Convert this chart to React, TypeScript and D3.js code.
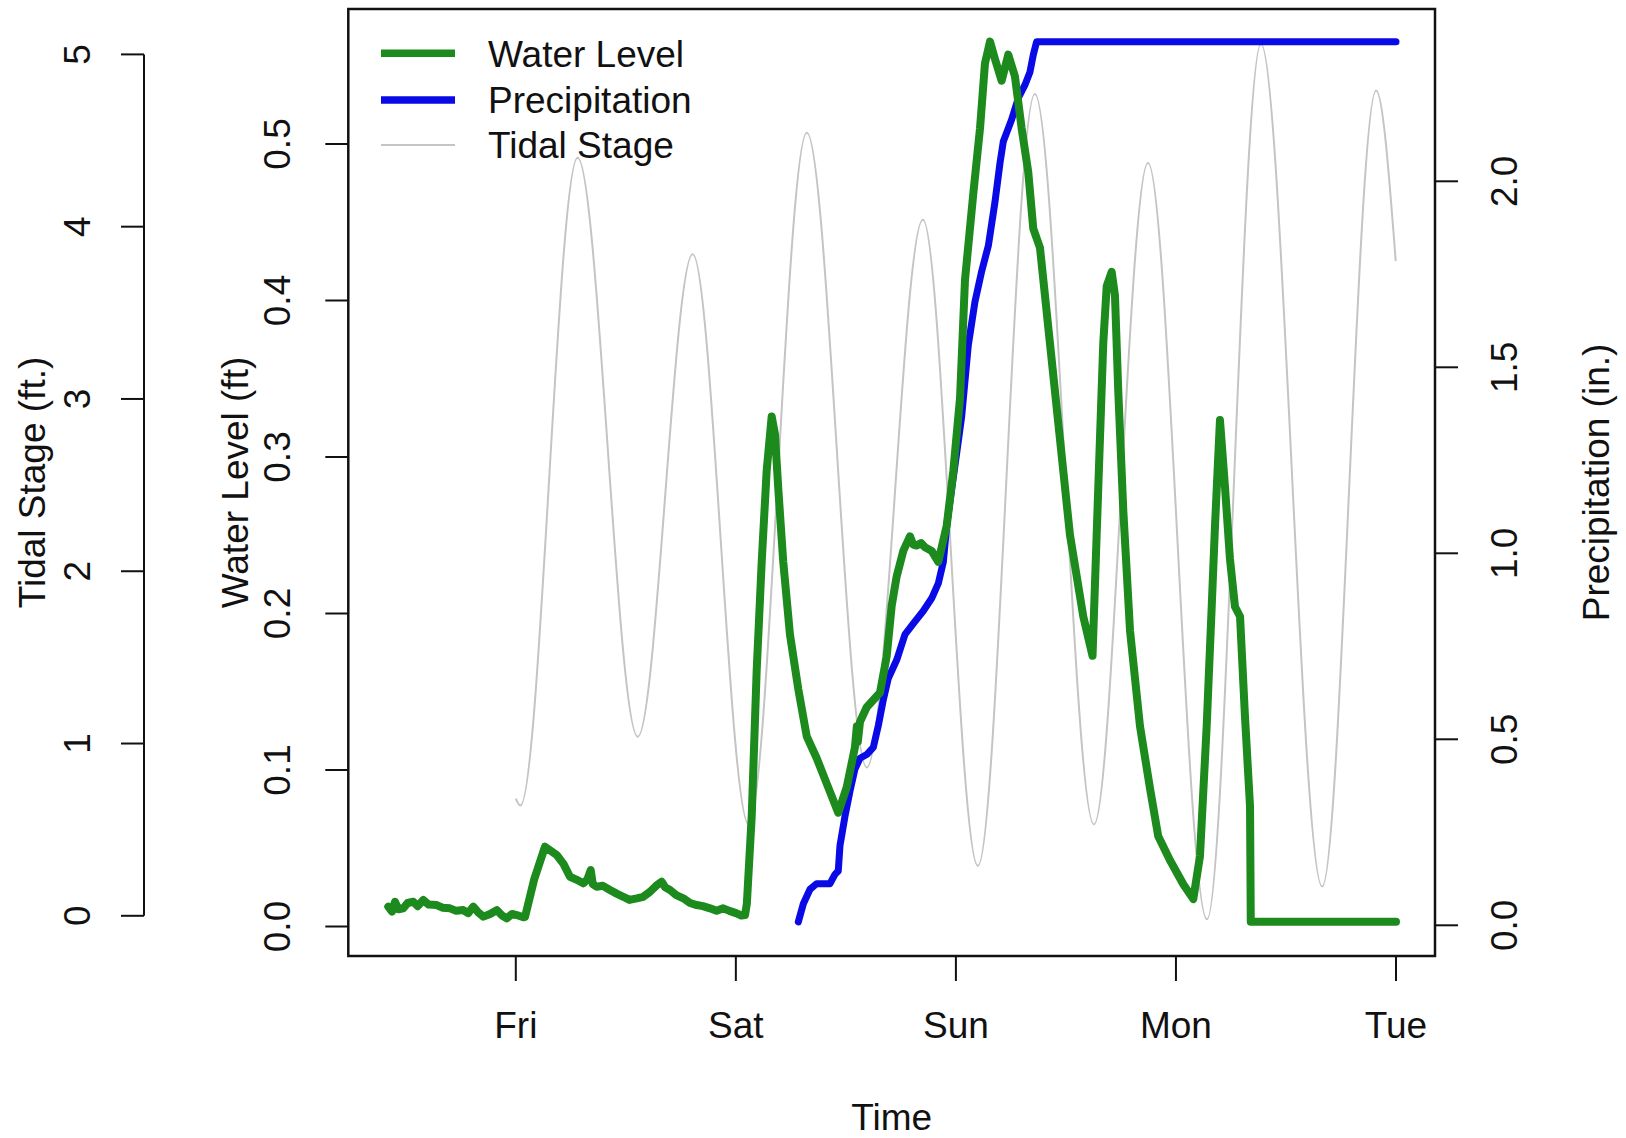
import React from "react";
import * as d3 from "d3";

// hours relative to Friday 00:00
const waterHours = [
  -13.91, -13.5, -13.17, -12.8, -12.27, -11.8, -11.18, -10.7, -10.09, -9.5, -8.63, -8.0, -7.18, -6.5,
  -5.73, -5.2, -4.64, -4.1, -3.54, -2.8, -2.08, -1.5, -0.99, -0.4, 0.1, 0.82, 1.0, 2.0, 3.18, 4.46,
  5.2, 5.91, 6.6, 7.36, 7.8, 8.17, 8.4, 8.82, 9.5, 10.27, 11.0, 11.72, 12.4, 13.19, 13.9, 14.64,
  15.3, 15.91, 16.3, 16.82, 17.5, 18.27, 19.0, 19.73, 20.4, 21.18, 21.9, 22.63, 23.3, 24.09, 24.6,
  25.0, 25.2, 25.73, 26.27, 26.82, 27.36, 27.91, 28.27, 28.63, 29.17, 29.9, 30.81, 31.73, 32.82,
  33.91, 35.17, 36.09, 36.99, 37.2, 37.3, 37.54, 38.27, 38.99, 39.72, 40.45, 41.0, 41.54, 42.26,
  42.99, 43.35, 43.72, 44.2, 44.63, 45.36, 46.08, 47.0, 47.72, 48.45, 48.99, 49.9, 50.63, 51.17,
  51.72, 52.26, 52.99, 53.71, 54.44, 55.17, 55.89, 56.44, 57.17, 58.26, 59.35, 60.44, 61.89, 62.9,
  63.53, 64.07, 64.45, 64.99, 65.35, 65.71, 66.26, 66.99, 68.08, 69.17, 70.07, 71.35, 72.8, 73.89,
  74.62, 75.35, 75.9, 76.26, 76.8, 77.35, 77.89, 78.44, 78.99, 79.53, 80.08, 80.16, 96.0,
];
const waterLevel = [
  0.0127, 0.0095, 0.0158, 0.011, 0.0116, 0.015, 0.0158, 0.013, 0.0169, 0.014, 0.0137, 0.012, 0.0116, 0.01,
  0.0105, 0.0085, 0.0127, 0.009, 0.0063, 0.008, 0.0105, 0.007, 0.0052, 0.008, 0.0073, 0.0059, 0.006, 0.03, 0.051, 0.0457,
  0.04, 0.0318, 0.03, 0.0276, 0.03, 0.0361, 0.027, 0.0254, 0.026, 0.0233, 0.021, 0.019, 0.017, 0.018, 0.019, 0.0222,
  0.026, 0.0286, 0.025, 0.0233, 0.02, 0.018, 0.015, 0.0137, 0.013, 0.0116, 0.01, 0.0116, 0.01, 0.0084, 0.007,
  0.0073, 0.0146, 0.0704, 0.1633, 0.233, 0.2911, 0.3259, 0.3144, 0.2795, 0.233, 0.1866, 0.1517, 0.1215, 0.1075,
  0.0913, 0.0727, 0.0889, 0.1145, 0.128, 0.118, 0.1308, 0.1401, 0.1447, 0.1494, 0.1726, 0.2051, 0.2237, 0.24,
  0.2493, 0.244, 0.2434, 0.245, 0.2423, 0.24, 0.233, 0.2562, 0.2911, 0.3376, 0.413, 0.4684, 0.51, 0.5515,
  0.5654, 0.5543, 0.5404, 0.5571, 0.5432, 0.51, 0.4822, 0.4459, 0.4337, 0.3725, 0.3114, 0.2502, 0.1982, 0.173,
  0.2808, 0.3725, 0.4092, 0.4183, 0.4031, 0.3419, 0.2655, 0.1891, 0.1279, 0.0882, 0.0576, 0.0423, 0.027, 0.0175,
  0.045, 0.1279, 0.2043, 0.2562, 0.3236, 0.2808, 0.2349, 0.2043, 0.1981, 0.134, 0.0766, 0.003, 0.003,
];

const precipHours = [
  30.81, 31.36, 32.09, 32.82, 34.27, 34.81, 35.17, 35.36, 35.9, 36.45, 36.99, 37.54, 38.27, 38.99,
  39.54, 40.08, 40.63, 41.54, 42.45, 43.35, 44.44, 45.36, 46.08, 46.63, 47.0, 47.54, 48.09, 48.63,
  49.35, 50.08, 50.81, 51.54, 52.26, 52.81, 53.17, 54.08, 54.81, 55.53, 56.08, 56.44, 56.8, 96.0,
];
const precipInches = [
  0.009, 0.058, 0.097, 0.112, 0.112, 0.137, 0.146, 0.215, 0.293, 0.361, 0.42, 0.449, 0.459, 0.478,
  0.537, 0.606, 0.664, 0.713, 0.782, 0.811, 0.845, 0.879, 0.919, 0.977, 1.075, 1.173, 1.27, 1.368,
  1.559, 1.676, 1.758, 1.827, 1.944, 2.049, 2.107, 2.166, 2.224, 2.259, 2.294, 2.34, 2.375, 2.375,
];

const tideHours = [0.0, 0.5, 6.74, 13.3, 19.29, 25.4, 31.74, 38.29, 44.4, 50.4, 56.61, 63.06, 68.95, 75.39, 81.27, 87.95, 93.83, 95.97];
const tideStage = [0.68, 0.64, 4.4, 1.04, 3.84, 0.53, 4.545, 0.861, 4.04, 0.29, 4.77, 0.53, 4.37, -0.02, 5.06, 0.17, 4.79, 3.8];

const dayLabels = ["Fri", "Sat", "Sun", "Mon", "Tue"];
const dayHours = [0, 24, 48, 72, 96];
const waterTicks = [0, 0.1, 0.2, 0.3, 0.4, 0.5];
const precipTicks = [0, 0.5, 1.0, 1.5, 2.0];
const tideTicks = [0, 1, 2, 3, 4, 5];
const legendLabels = ["Water Level", "Precipitation", "Tidal Stage"];

const GREEN = "#1c8a1c";
const BLUE = "#0a0ae6";
const GRAY = "#c4c4c4";

export default function App() {
  const W = 1626;
  const H = 1138;
  const box = { l: 348.3, r: 1435, t: 9, b: 956 };
  const font = "'Liberation Sans', Arial, Helvetica, sans-serif";
  const fs = 37;

  const x = d3.scaleLinear().domain([0, 96]).range([515.8, 1396]);
  const yW = d3.scaleLinear().domain([0, 0.5]).range([926.5, 144]);
  const yP = d3.scaleLinear().domain([0, 2]).range([925.3, 181.3]);
  const yT = d3.scaleLinear().domain([0, 5]).range([915.8, 54.4]);

  const waterPts: [number, number][] = waterHours.map((h, i) => [h, waterLevel[i]]);
  const precipPts: [number, number][] = precipHours.map((h, i) => [h, precipInches[i]]);
  const tidePts: [number, number][] = tideHours.map((h, i) => [h, tideStage[i]]);

  const waterLine = d3.line<[number, number]>().x((d) => x(d[0])).y((d) => yW(d[1]));
  const precipLine = d3.line<[number, number]>().x((d) => x(d[0])).y((d) => yP(d[1]));
  const tideLine = d3
    .line<[number, number]>()
    .x((d) => x(d[0]))
    .y((d) => yT(d[1]))
    .curve(d3.curveMonotoneX);

  const fmt1 = d3.format(".1f");
  const legendColors = [GREEN, BLUE, GRAY];
  const legendWidths = [7.5, 7.5, 2];
  const legendY = [53.3, 100, 145];

  const tick = 23;

  return (
    <svg
      width={W}
      height={H}
      style={{ position: "absolute", left: 0, top: 0, background: "#fff" }}
      fontFamily={font}
      fontSize={fs}
    >
      <rect x={0} y={0} width={W} height={H} fill="#fff" />

      {/* tidal series */}
      <path d={tideLine(tidePts) || ""} fill="none" stroke={GRAY} strokeWidth={2} />
      {/* precipitation */}
      <path
        d={precipLine(precipPts) || ""}
        fill="none"
        stroke={BLUE}
        strokeWidth={7}
        strokeLinejoin="round"
        strokeLinecap="round"
      />
      {/* water level */}
      <path
        d={waterLine(waterPts) || ""}
        fill="none"
        stroke={GREEN}
        strokeWidth={8}
        strokeLinejoin="round"
        strokeLinecap="round"
      />

      {/* plot box */}
      <rect
        x={box.l}
        y={box.t}
        width={box.r - box.l}
        height={box.b - box.t}
        fill="none"
        stroke="#111"
        strokeWidth={2.5}
      />

      {/* bottom axis */}
      <line x1={x(0)} x2={x(96)} y1={box.b} y2={box.b} stroke="#111" strokeWidth={2} />
      {dayHours.map((h, i) => (
        <g key={"d" + i}>
          <line x1={x(h)} x2={x(h)} y1={box.b} y2={box.b + 25} stroke="#111" strokeWidth={2} />
          <text x={x(h)} y={1038} textAnchor="middle" fill="#111">
            {dayLabels[i]}
          </text>
        </g>
      ))}
      <text x={(box.l + box.r) / 2} y={1130} textAnchor="middle" fill="#111">
        Time
      </text>

      {/* water level axis (left) */}
      {waterTicks.map((v, i) => (
        <g key={"w" + i}>
          <line x1={box.l - tick} x2={box.l} y1={yW(v)} y2={yW(v)} stroke="#111" strokeWidth={2} />
          <text transform={`translate(290,${yW(v)}) rotate(-90)`} textAnchor="middle" fill="#111">
            {fmt1(v)}
          </text>
        </g>
      ))}
      <text transform={`translate(248,${(box.t + box.b) / 2}) rotate(-90)`} textAnchor="middle" fill="#111">
        Water Level (ft)
      </text>

      {/* tidal stage axis (far left) */}
      <line x1={144} x2={144} y1={yT(0)} y2={yT(5)} stroke="#111" strokeWidth={2} />
      {tideTicks.map((v, i) => (
        <g key={"t" + i}>
          <line x1={144 - tick} x2={144} y1={yT(v)} y2={yT(v)} stroke="#111" strokeWidth={2} />
          <text transform={`translate(90,${yT(v)}) rotate(-90)`} textAnchor="middle" fill="#111">
            {String(v)}
          </text>
        </g>
      ))}
      <text transform={`translate(45,${(box.t + box.b) / 2}) rotate(-90)`} textAnchor="middle" fill="#111">
        Tidal Stage (ft.)
      </text>

      {/* precipitation axis (right) */}
      {precipTicks.map((v, i) => (
        <g key={"p" + i}>
          <line x1={box.r} x2={box.r + tick} y1={yP(v)} y2={yP(v)} stroke="#111" strokeWidth={2} />
          <text transform={`translate(1517,${yP(v)}) rotate(-90)`} textAnchor="middle" fill="#111">
            {fmt1(v)}
          </text>
        </g>
      ))}
      <text transform={`translate(1609,${(box.t + box.b) / 2}) rotate(-90)`} textAnchor="middle" fill="#111">
        Precipitation (in.)
      </text>

      {/* legend */}
      {legendLabels.map((lab, i) => (
        <g key={"l" + i}>
          <line
            x1={381}
            x2={455}
            y1={legendY[i]}
            y2={legendY[i]}
            stroke={legendColors[i]}
            strokeWidth={legendWidths[i]}
          />
          <text x={488} y={legendY[i] + 13.4} fill="#111">
            {lab}
          </text>
        </g>
      ))}
    </svg>
  );
}
